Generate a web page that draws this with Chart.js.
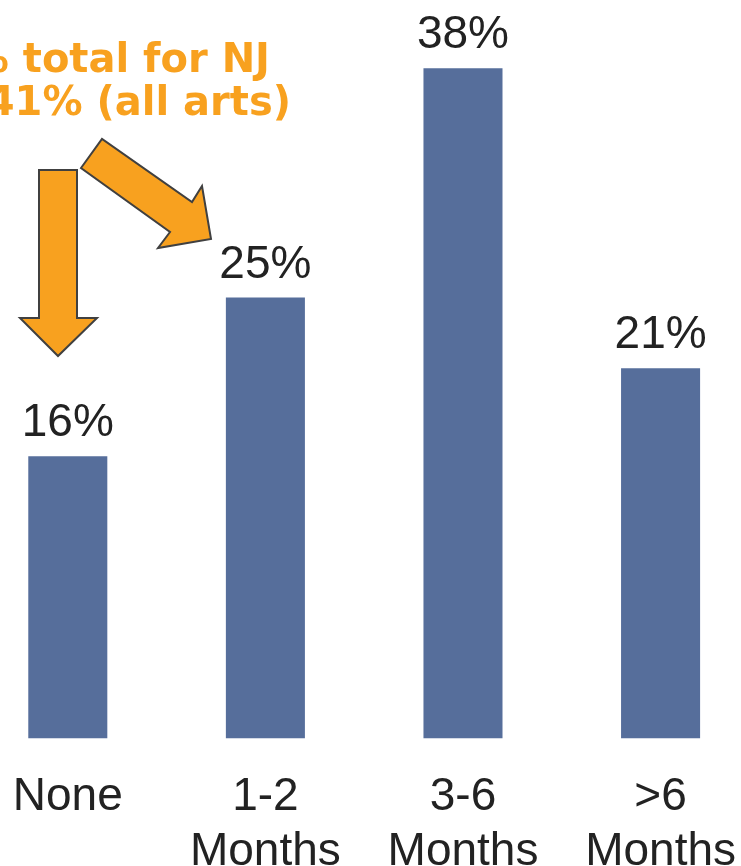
<!DOCTYPE html>
<html>
<head>
<meta charset="utf-8">
<script src="https://cdn.jsdelivr.net/npm/chart.js@4"></script>
<style>
  html, body { margin: 0; padding: 0; background: #fff; overflow: hidden; width: 741px; height: 866px; }
  #wrap { position: absolute; left: -31px; top: 0; width: 798px; height: 911px; }
</style>
</head>
<body>
<div id="wrap"><canvas id="chart"></canvas></div>
<script>
var categories = [["None"], ["1-2", "Months"], ["3-6", "Months"], [">6", "Months"]];
var values = [16, 25, 38, 21];
var noteLines = ["% total for NJ", "41% (all arts)"];

var SHIFT = 31; // canvas sits 31px left of the page edge

var valueLabels = {
	id: 'valueLabels',
	afterDatasetsDraw: function(chart) {
		var ctx = chart.ctx;
		var meta = chart.getDatasetMeta(0);
		ctx.save();
		ctx.font = '46px "Liberation Sans", Arial, sans-serif';
		ctx.fillStyle = '#222';
		ctx.textAlign = 'center';
		ctx.textBaseline = 'alphabetic';
		meta.data.forEach(function(bar, i) {
			ctx.fillText(values[i] + '%', bar.x, bar.y - 20);
		});
		ctx.restore();
	}
};

var note = {
	id: 'note',
	afterDraw: function(chart) {
		var ctx = chart.ctx;
		ctx.save();
		ctx.translate(SHIFT, 0);
		ctx.font = 'bold 40px "DejaVu Sans", Verdana, sans-serif';
		ctx.fillStyle = '#F8A11F';
		ctx.textAlign = 'right';
		ctx.fillText(noteLines[0], 270, 72);
		ctx.fillText(noteLines[1], 291, 115);

		ctx.fillStyle = '#F8A11F';
		ctx.strokeStyle = '#404040';
		ctx.lineWidth = 2;
		ctx.lineJoin = 'miter';
		var down = [[39,170],[77,170],[77,318],[97,318],[58,356],[20,318],[39,318]];
		var diag = [[81,168],[102,139],[192,202],[202,186],[211,239],[158,248],[170,232]];
		[down, diag].forEach(function(p) {
			ctx.beginPath();
			ctx.moveTo(p[0][0], p[0][1]);
			for (var i = 1; i < p.length; i++) ctx.lineTo(p[i][0], p[i][1]);
			ctx.closePath();
			ctx.fill();
			ctx.stroke();
		});
		ctx.restore();
	}
};

new Chart(document.getElementById('chart'), {
	type: 'bar',
	data: {
		labels: categories,
		datasets: [{
			data: values,
			backgroundColor: '#566E9B',
			borderWidth: 0,
			barPercentage: 0.4,
			categoryPercentage: 1.0
		}]
	},
	options: {
		responsive: true,
		maintainAspectRatio: false,
		animation: false,
		events: [],
		layout: { padding: { top: 33, left: 0, right: 0, bottom: 0 } },
		plugins: {
			legend: { display: false },
			tooltip: { enabled: false }
		},
		scales: {
			y: { display: false, min: 0, max: 40 },
			x: {
				border: { display: false },
				grid: { display: false, drawTicks: false },
				ticks: {
					color: '#222',
					padding: 31,
					maxRotation: 0,
					autoSkip: false,
					font: { family: '"Liberation Sans", Arial, sans-serif', size: 46, lineHeight: 1.2 }
				}
			}
		}
	},
	plugins: [valueLabels, note]
});
</script>
</body>
</html>
